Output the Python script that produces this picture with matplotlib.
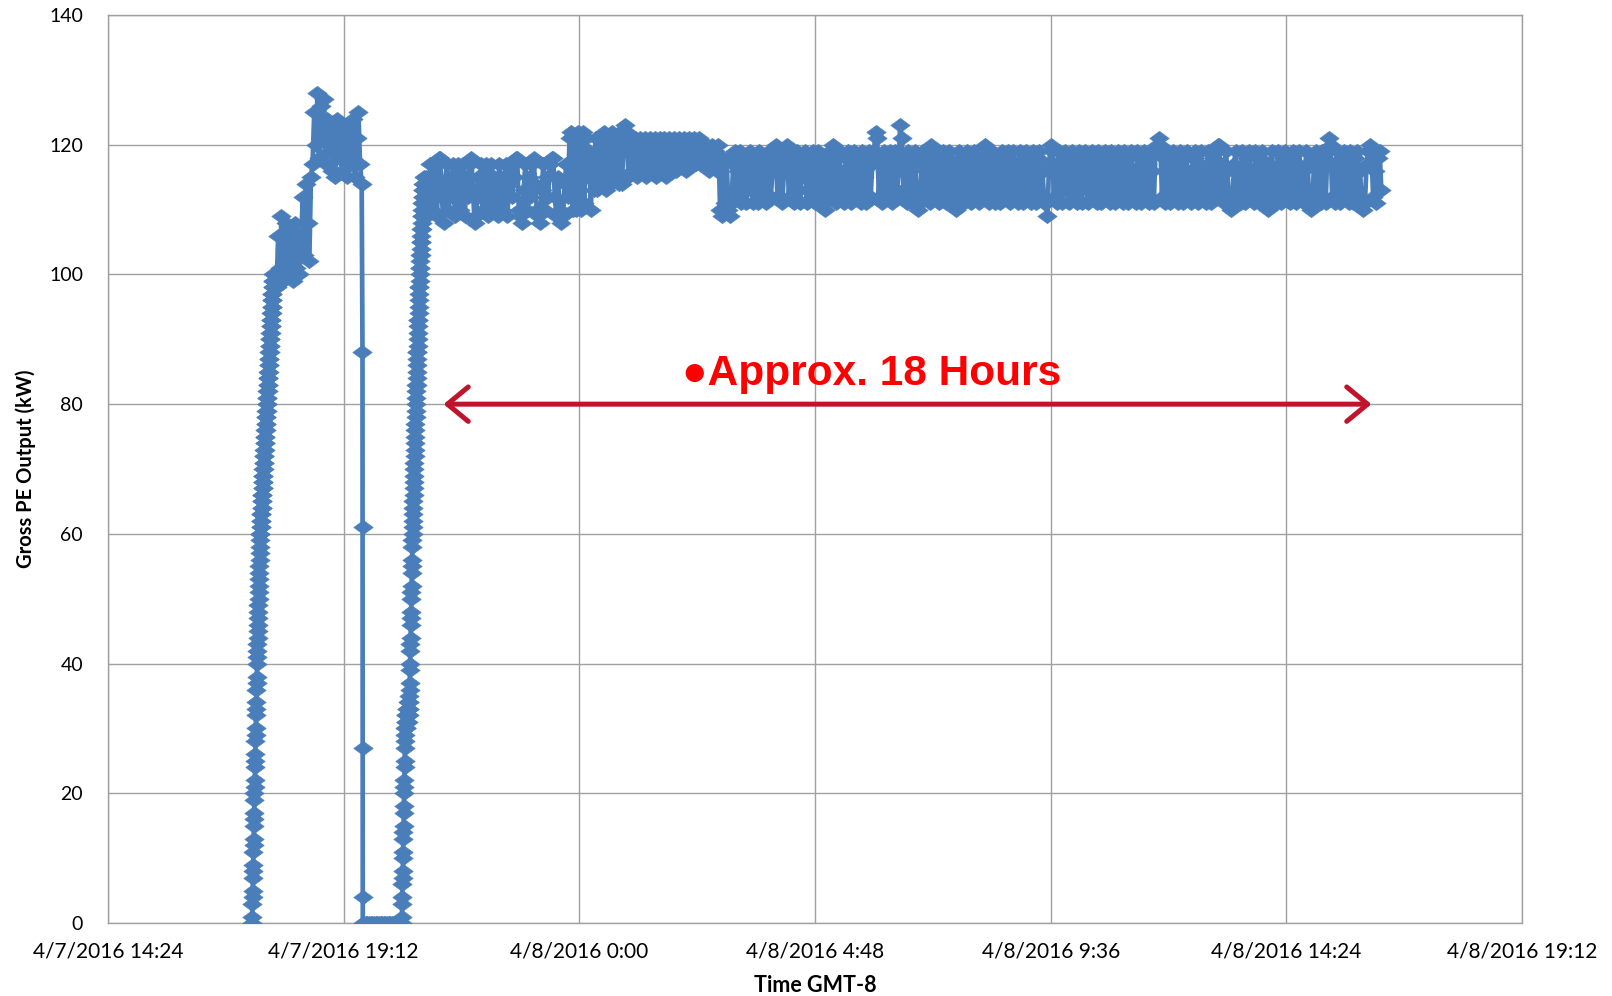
import matplotlib
matplotlib.use("Agg")
import matplotlib.pyplot as plt
from datetime import datetime, timedelta

# ---------------- data ----------------
# Gross PE output (kW), logged in segments: (segment start, sample step in seconds, values)
rise1 = [0, 1, 3, 4, 5, 7, 8, 9, 11, 12, 13, 15, 16, 17, 19, 20,
         21, 22, 24, 25, 26, 28, 29, 30, 32, 33, 34, 36, 37, 38, 40,
         41, 42, 43, 44, 45, 46, 47, 48, 49, 50, 51, 52, 53, 54, 55, 56, 57, 58, 59, 60,
         60, 61, 61, 62, 62, 63, 63, 64, 64, 65, 65, 66, 66, 67, 67, 68, 68, 69, 69, 70,
         70, 71, 71, 72, 72, 73, 73, 74, 74, 75, 75, 76, 76, 77, 77, 78, 78, 79, 79, 80,
         80, 81, 81, 82, 82, 83, 83, 84, 84, 85, 85, 86, 86, 87, 87, 88, 88, 89, 89, 90,
         90, 91, 91, 92, 92, 93, 93, 94, 94, 95, 95, 96, 96, 97, 97, 98, 98, 99, 99, 100]
run1 = [98, 106, 101, 109, 99, 104, 108, 100, 107,
        103, 99, 108, 101, 106, 100,
        105, 112, 103, 114, 108, 102, 115,
        117, 125, 120, 128, 118, 126, 121, 127, 117, 124, 119,
        123, 116, 121, 115, 124, 118, 122, 116, 120, 123, 115, 119, 122, 117,
        124, 115, 121, 125, 117, 114]
drop = [88, 61, 27, 4, 0]
zero_run = [0, 0, 0, 0, 0, 0, 0, 0, 0, 0, 0, 0, 0, 0, 0, 0, 0, 0, 0, 0, 0, 0, 0]
rise2 = [0, 1, 3, 4, 6, 7, 8, 10, 11, 13, 14, 15, 17, 18, 20, 21, 22, 24, 25, 27, 28, 29, 30,
         31, 30, 32, 31, 30, 32, 31, 33, 32, 31, 32, 33, 32, 31, 33, 32, 33, 32, 34, 33, 32, 34, 33, 34,
         35, 36, 37, 39, 40, 42, 43, 44, 46, 47, 48, 50, 51, 52, 54, 55, 56, 58, 59, 60,
         61, 62, 63, 64, 65, 66, 67, 68, 69, 70, 71, 72, 73, 74, 75, 76, 77, 78, 79, 80,
         81, 82, 83, 83, 84, 85, 86, 87, 88, 88, 89, 90, 91, 92, 93, 93, 94, 95, 96, 97, 98, 98, 99, 100,
         101, 101, 102, 103, 103, 104, 105, 105, 106, 107, 107, 108, 109, 109, 110, 111, 111, 112,
         113, 112, 114, 113, 115, 114]
run2 = [115, 109, 113, 117, 110, 114, 117, 109, 118, 118,
        112, 108, 114, 117, 110, 115, 112, 117, 109, 114,
        117, 110, 113, 117, 109, 115, 112, 117, 118, 113,
        108, 109, 115, 112, 117, 110, 114, 117, 109, 113,
        117, 110, 115, 112, 109, 117, 113, 110, 115, 117,
        109, 114, 117, 112, 115, 118, 118, 110, 109, 108,
        113, 117, 110, 115, 112, 117, 118, 114, 110, 109,
        108, 113, 117, 110, 115, 112, 117, 118, 118, 112,
        109, 115, 110, 108, 109, 114, 117, 112, 121, 122,
        110, 121, 110, 122]
run3 = [121, 110, 122, 111, 121, 115, 119, 110, 118, 113,
        121, 113, 117, 121, 114, 122, 113, 119, 121, 114,
        122, 115, 119, 121, 114, 122, 114, 120, 123, 122,
        115, 121, 116, 119, 121, 115, 120, 121, 116, 119,
        121, 115, 118, 121, 116, 120, 121, 115, 119, 121,
        116, 120, 121, 115, 119, 121, 117, 120, 121, 116,
        120, 121, 117, 119, 121, 116, 120, 121, 117, 119,
        121, 117, 120, 121, 117, 119, 120, 117, 120, 116,
        119, 120, 117, 119, 116, 120, 110, 109, 118, 111]
run4 = [118, 110, 109, 111, 117, 119, 112, 116, 119, 111, 115, 118, 111, 117, 119,
        113, 111, 118, 116, 111, 119, 115, 112, 118, 111, 117, 119, 112, 116, 118,
        120, 112, 117, 119, 111, 116, 118, 120, 112, 116, 119, 111, 117, 119, 113,
        111, 118, 115, 119, 111, 117, 118, 112, 119, 111, 116, 119, 113, 111, 118,
        110, 111, 117, 119, 112, 120, 116, 111, 118, 119, 112, 116, 111, 118, 119,
        113, 111, 117, 119, 112, 116, 118, 111, 119, 115, 111, 118, 119, 112, 117,
        119, 122, 121, 112, 118, 111, 119, 116, 112, 118, 119, 111, 117, 119, 112,
        116, 123, 121, 113, 118, 111, 119, 116, 111, 118, 119, 112, 110, 111, 117,
        119, 112, 116, 119, 111, 120, 118, 112, 117, 119, 111, 116, 119, 113, 111,
        118, 119, 112, 117, 111, 110, 116, 119, 112, 118, 111, 117, 119, 113, 111,
        118, 119, 112, 116, 111, 119, 117, 112, 120, 119, 111, 117, 119, 113, 111,
        118, 116, 111, 119, 117, 112, 118, 119, 111, 116, 119, 112, 117, 111, 119,
        116, 111, 118, 119, 112, 117, 111, 119, 115, 111, 118, 119, 112, 116, 111,
        111, 109, 117, 120, 119, 112, 117, 111, 119, 116, 111, 118, 119, 113, 111,
        118, 119, 112, 116, 111, 119, 117, 111, 118, 119, 113, 111, 117, 119, 112,
        116, 111, 119, 118, 111, 116, 119, 112, 117, 111, 119, 115, 111, 118, 119,
        112, 116, 111, 119, 117, 111, 118, 119, 112, 116, 111, 119, 115, 111, 118,
        119, 112, 117, 111, 119, 116, 111, 119, 120, 121, 120, 112, 118, 111, 119,
        116, 111, 118, 119, 112, 117, 111, 119, 115, 111, 118, 119, 112, 116, 111,
        118, 119, 113, 111, 117, 119, 112, 116, 111, 119, 117, 111, 118, 119, 112,
        120, 120, 112, 117, 111, 119, 116, 111, 110, 111, 117, 119, 112, 116, 111,
        119, 117, 111, 118, 119, 112, 116, 111, 119, 115, 111, 118, 119, 112, 117,
        111, 110, 117, 119, 112, 116, 111, 119, 117, 111, 118, 119, 112, 116, 111,
        118, 119, 113, 111, 117, 119, 112, 116, 111, 119, 117, 111, 110, 111, 118,
        119, 112, 116, 111, 119, 117, 111, 119, 121, 120, 112, 117, 111, 119, 116,
        111, 118, 119, 112, 116, 111, 119, 117, 111, 118, 119, 112, 116, 111, 110,
        111, 117, 119, 120, 119, 112, 116, 111, 118, 119, 113]

segment_starts = ["2016-04-07 17:20:00", "2016-04-07 17:50:00", "2016-04-07 19:35:00",
                  "2016-04-07 19:37:00", "2016-04-07 20:23:00", "2016-04-07 20:52:00",
                  "2016-04-08 00:00:00", "2016-04-08 03:00:00"]
segment_steps_s = [12, 120, 5, 120, 12, 120, 120, 120]
segment_values = [rise1, run1, drop, zero_run, rise2, run2, run3, run4]

x_ticks = ["2016-04-07 14:24", "2016-04-07 19:12", "2016-04-08 00:00", "2016-04-08 04:48",
           "2016-04-08 09:36", "2016-04-08 14:24", "2016-04-08 19:12"]
x_tick_labels = ["4/7/2016 14:24", "4/7/2016 19:12", "4/8/2016 0:00", "4/8/2016 4:48",
                 "4/8/2016 9:36", "4/8/2016 14:24", "4/8/2016 19:12"]
y_ticks = [0, 20, 40, 60, 80, 100, 120, 140]

annotation_text = "\u25cfApprox. 18 Hours"
annotation_pos = ("2016-04-08 02:05", 82.9)
arrow_span = ("2016-04-07 21:14", "2016-04-08 16:08")
arrow_level = 80

# ---------------- build series ----------------
times, values = [], []
for start, step, vals in zip(segment_starts, segment_steps_s, segment_values):
    t0 = datetime.strptime(start, "%Y-%m-%d %H:%M:%S")
    for i, v in enumerate(vals):
        times.append(t0 + timedelta(seconds=step * i))
        values.append(v)

def dt(s):
    return datetime.strptime(s, "%Y-%m-%d %H:%M")

# ---------------- plot ----------------
plt.rcParams["font.family"] = ["Lato", "DejaVu Sans"]
fig = plt.figure(figsize=(16.12, 9.96), dpi=100)
ax = fig.add_axes([0.0670, 0.0733, 0.8772, 0.9116])

blue = "#4A7EBB"
diamond = [(-1, 0), (0, 0.74), (1, 0), (0, -0.74), (-1, 0)]
ax.plot(times, values, color=blue, lw=3.4, marker=diamond, markersize=14,
        markerfacecolor=blue, markeredgecolor=blue, markeredgewidth=0.4,
        solid_joinstyle="round", zorder=3)

ax.set_xlim(dt(x_ticks[0]), dt(x_ticks[-1]))
ax.set_ylim(0, 140)
ax.set_xticks([dt(s) for s in x_ticks])
ax.set_xticklabels(x_tick_labels)
ax.set_yticks(y_ticks)

grid_c = "#A0A0A0"
ax.grid(True, color=grid_c, lw=1.0)
ax.set_axisbelow(True)
for sp in ax.spines.values():
    sp.set_color(grid_c)
    sp.set_linewidth(1.0)
ax.tick_params(axis="both", length=0, colors="black")
ax.tick_params(axis="x", pad=13, labelsize=15)
ax.tick_params(axis="y", pad=18, labelsize=14)

ax.set_ylabel("Gross PE Output (kW)", fontsize=14.5, fontweight="bold")
ax.yaxis.set_label_coords(-0.051, 0.5)
ax.set_xlabel("Time GMT-8", fontsize=15.5, fontweight="bold")
ax.xaxis.set_label_coords(0.5, -0.057)

ax.annotate("", xy=(dt(arrow_span[1]), arrow_level), xytext=(dt(arrow_span[0]), arrow_level),
            arrowprops=dict(arrowstyle="<->,head_length=0.75,head_width=0.62", color="#C0142C",
                            lw=3.6, shrinkA=0, shrinkB=0, mutation_scale=20), zorder=4)
ax.text(dt(annotation_pos[0]), annotation_pos[1], annotation_text, color="#FF0000",
        fontsize=30.5, fontweight="bold", family=["Liberation Sans", "DejaVu Sans"],
        ha="left", va="baseline", zorder=5)

fig.savefig("out.png", dpi=100)
